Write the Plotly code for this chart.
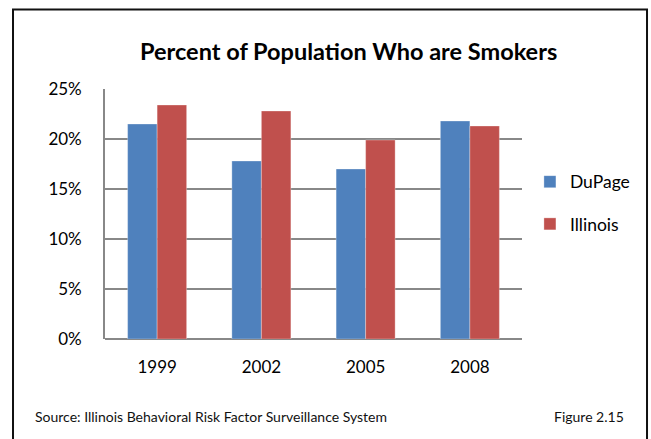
import plotly.graph_objects as go

# Smoking prevalence, DuPage County vs. Illinois (fraction of population)
years = ["1999", "2002", "2005", "2008"]
dupage = [0.215, 0.178, 0.170, 0.218]
illinois = [0.234, 0.228, 0.199, 0.213]
y_ticks = [0, 0.05, 0.10, 0.15, 0.20, 0.25]
y_tick_labels = ["0%", "5%", "10%", "15%", "20%", "25%"]

BLUE = "#4F81BD"
RED = "#C0504D"
GRID = "#888888"
FONT = "Lato"

fig = go.Figure()
fig.add_trace(go.Bar(
    x=years, y=dupage, name="DuPage", legend="legend",
    marker=dict(color=BLUE, line=dict(color="rgba(255,255,255,0.5)", width=0.6)),
))
fig.add_trace(go.Bar(
    x=years, y=illinois, name="Illinois", legend="legend2",
    marker=dict(color=RED, line=dict(color="rgba(255,255,255,0.5)", width=0.6)),
))

legend_style = dict(
    xanchor="left", yanchor="middle", x=1.019,
    font=dict(family=FONT, size=17.5, color="#000000"),
    bgcolor="rgba(0,0,0,0)", borderwidth=0,
)

fig.update_layout(
    width=651, height=439,
    margin=dict(l=105, r=129, t=89, b=100),
    paper_bgcolor="#FFFFFF", plot_bgcolor="#FFFFFF",
    barmode="group", bargap=0.434, bargroupgap=0,
    font=dict(family=FONT, size=17, color="#000000"),
    showlegend=True,
    legend=dict(y=0.629, **legend_style),
    legend2=dict(y=0.46, **legend_style),
    xaxis=dict(
        showgrid=False, showline=False, zeroline=False,
        tickfont=dict(family=FONT, size=17, color="#000000"),
        ticklabelstandoff=16,
    ),
    yaxis=dict(
        range=[0, 0.25], tickvals=y_ticks, ticktext=y_tick_labels,
        showgrid=True, gridcolor=GRID, gridwidth=1.7,
        zeroline=True, zerolinecolor=GRID, zerolinewidth=1.7,
        showline=True, linecolor=GRID, linewidth=1.7,
        tickfont=dict(family=FONT, size=17, color="#000000"),
        ticklabelstandoff=18,
    ),
    annotations=[
        dict(text="<b>Percent of Population Who are Smokers</b>",
             xref="paper", yref="paper", x=0.583, y=1.152,
             xanchor="center", yanchor="middle", showarrow=False,
             font=dict(family=FONT, size=23.5, color="#000000")),
        dict(text="Source: Illinois Behavioral Risk Factor Surveillance System",
             xref="paper", yref="paper", x=-0.173, y=-0.308,
             xanchor="left", yanchor="middle", showarrow=False,
             font=dict(family=FONT, size=14, color="#111111")),
        dict(text="Figure 2.15",
             xref="paper", yref="paper", x=1.249, y=-0.308,
             xanchor="right", yanchor="middle", showarrow=False,
             font=dict(family=FONT, size=14, color="#111111")),
    ],
    shapes=[
        dict(type="rect", xref="paper", yref="paper",
             x0=-0.2206, x1=1.2998, y0=-0.43, y1=1.318,
             line=dict(color="#111111", width=2), fillcolor="rgba(0,0,0,0)",
             layer="below"),
    ],
)

fig.write_html("out.html")
